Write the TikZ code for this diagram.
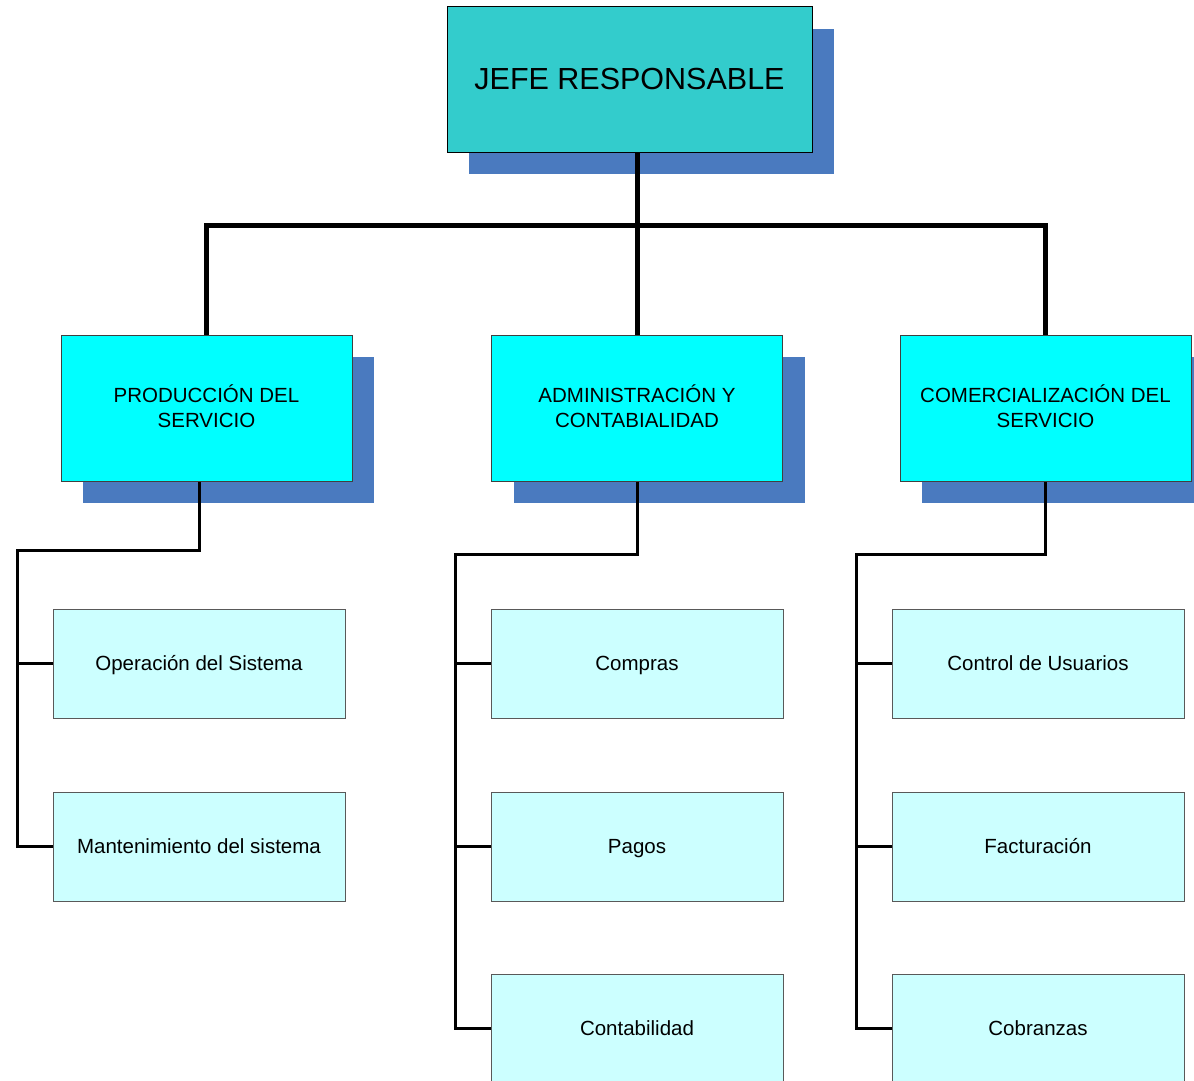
\documentclass[tikz,border=0pt]{standalone}
\usepackage{fontspec}
\setmainfont{Liberation Sans}
\usetikzlibrary{shadows}
\definecolor{topfill}{HTML}{33CCCC}
\definecolor{midfill}{HTML}{00FFFF}
\definecolor{subfill}{HTML}{CCFFFF}
\definecolor{shadowblue}{HTML}{4A7ABF}
\tikzset{
  boxshadow/.style={general shadow={fill=shadowblue, shadow xshift=22pt, shadow yshift=-22pt}},
  headbox/.style={draw=black, line width=1pt, fill=topfill, minimum width=365pt, minimum height=145pt,
    inner sep=0pt, boxshadow, font=\fontsize{30.5}{36}\selectfont},
  deptbox/.style={draw=black!75, line width=1pt, fill=midfill, minimum width=291pt, minimum height=146pt,
    inner sep=0pt, boxshadow, align=center, font=\fontsize{20.5}{25}\selectfont,
    execute at end node={\rule[-3pt]{0pt}{0pt}}},
  unitbox/.style={draw=black!65, line width=1pt, fill=subfill, minimum width=292pt, minimum height=109pt,
    inner sep=0pt, text height=18.45pt, text depth=3.77pt, font=\fontsize{20.5}{25}\selectfont},
  mainlink/.style={line width=5pt, draw=black},
  sublink/.style={line width=3pt, draw=black}
}
\begin{document}
\begin{tikzpicture}[x=1pt, y=-1pt]
\clip (0,0) rectangle (1194,1081);
\fill[white] (0,0) rectangle (1194,1081);

% top level
\node[headbox] (jefe) at (629.5,79.5) {JEFE RESPONSABLE};

% departments
\node[deptbox] (prod) at (206.5,408) {PRODUCCIÓN DEL\\SERVICIO};
\node[deptbox] (adm)  at (637,408)   {ADMINISTRACIÓN Y\\CONTABIALIDAD};
\node[deptbox] (com)  at (1045.5,408) {COMERCIALIZACIÓN DEL\\SERVICIO};

% units
\node[unitbox] (oper) at (199,663.5)  {Operación del Sistema};
\node[unitbox] (mant) at (199,846.5)  {Mantenimiento del sistema};
\node[unitbox] (comp) at (637,663.5)  {Compras};
\node[unitbox] (pago) at (637,846.5)  {Pagos};
\node[unitbox] (cont) at (637,1028.5) {Contabilidad};
\node[unitbox] (ctrl) at (1038,663.5) {Control de Usuarios};
\node[unitbox] (fact) at (1038,846.5) {Facturación};
\node[unitbox] (cobr) at (1038,1028.5) {Cobranzas};

% main hierarchy lines
\coordinate (bus) at (637,225);
\draw[mainlink] (jefe.south -| adm.north) -- (adm.north);
\draw[mainlink] (prod.north) |- (bus) -| (com.north);

% production branch
\coordinate (pl) at (17,550);
\draw[sublink] (prod.south -| oper.north) |- (pl) |- (mant.west);
\draw[sublink] (pl |- oper.west) -- (oper.west);

% administration branch
\coordinate (al) at (455,554);
\draw[sublink] (adm.south) |- (al) |- (cont.west);
\draw[sublink] (al |- comp.west) -- (comp.west);
\draw[sublink] (al |- pago.west) -- (pago.west);

% commercial branch
\coordinate (cl) at (856,554);
\draw[sublink] (com.south) |- (cl) |- (cobr.west);
\draw[sublink] (cl |- ctrl.west) -- (ctrl.west);
\draw[sublink] (cl |- fact.west) -- (fact.west);
\end{tikzpicture}
\end{document}
